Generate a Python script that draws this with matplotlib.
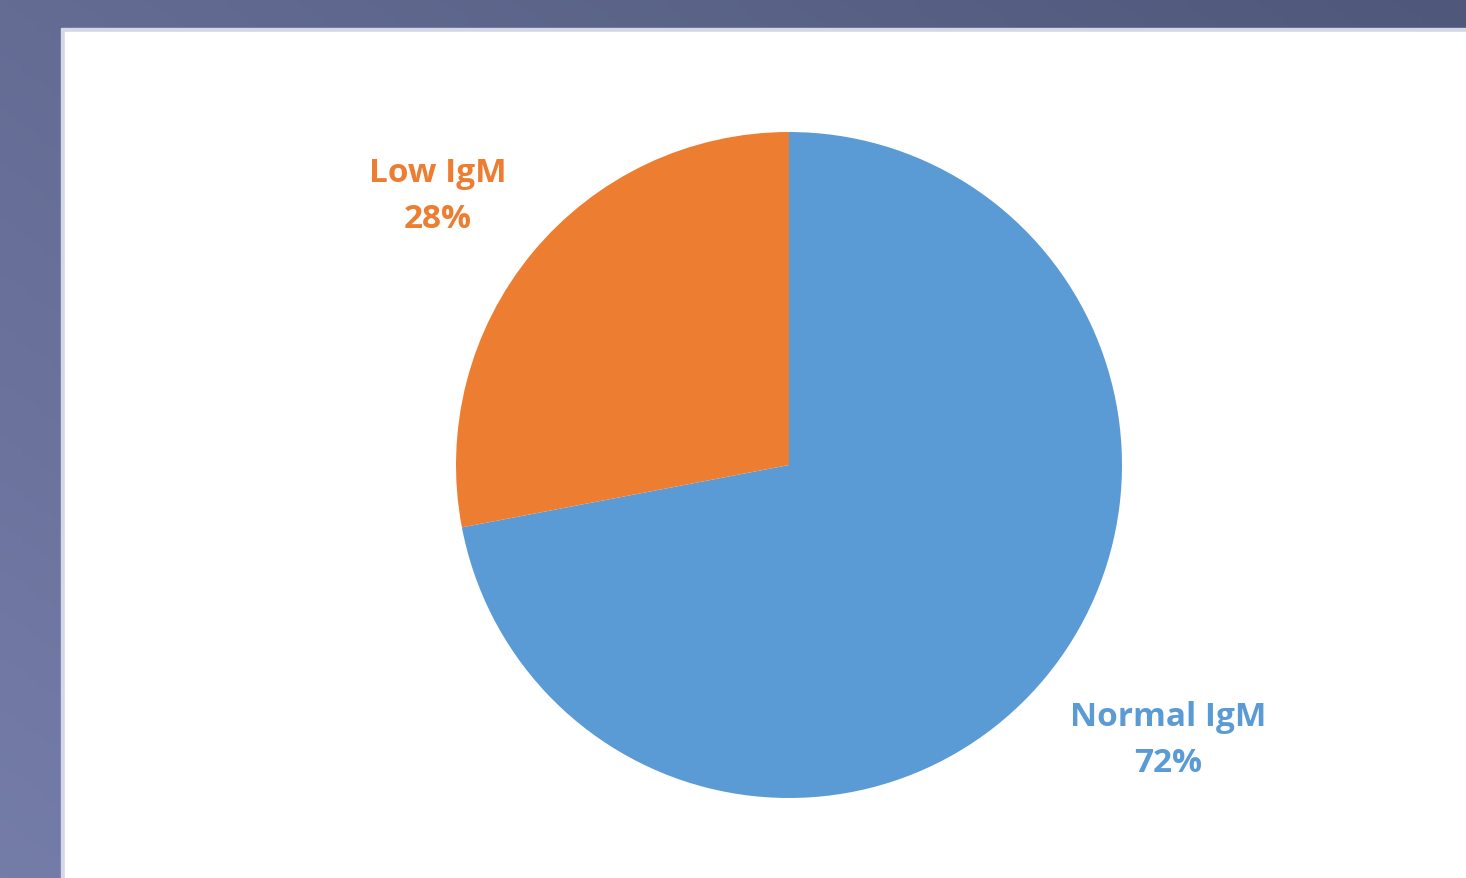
import numpy as np
import matplotlib.pyplot as plt

# IgM status share
labels = ['Normal IgM', 'Low IgM']
shares = [72, 28]
colors = ['#5B9BD5', '#ED7D31']
label_pos = [(1.14, -0.825), (-1.055, 0.81)]

W, H = 1466, 879
fig = plt.figure(figsize=(W / 100, H / 100), dpi=100)

# slide-style gradient backdrop
bg = fig.add_axes([0, 0, 1, 1])
xx, yy = np.meshgrid(np.linspace(0, 1, 200), np.linspace(0, 1, 200))
top_left = np.array([0x64, 0x6C, 0x94]) / 255
top_right = np.array([0x4F, 0x58, 0x7A]) / 255
bot_left = np.array([0x74, 0x7C, 0xA8]) / 255
grad = (top_left[None, None, :] * (1 - xx[..., None]) * (1 - yy[..., None])
        + top_right[None, None, :] * xx[..., None] * (1 - yy[..., None])
        + bot_left[None, None, :] * (1 - xx[..., None]) * yy[..., None]
        + (top_right * 0.5 + bot_left * 0.5)[None, None, :] * xx[..., None] * yy[..., None])
bg.imshow(grad, extent=[0, 1, 0, 1], origin='upper', aspect='auto')
bg.axis('off')

# white content panel
panel_l, panel_t = 65 / W, 33 / H
bg.add_patch(plt.Rectangle((panel_l - 0.003, 0), 1, 1 - panel_t + 0.004,
                           color='#D4D8E6', transform=bg.transAxes, zorder=2))
bg.add_patch(plt.Rectangle((panel_l, 0), 1, 1 - panel_t,
                           color='white', transform=bg.transAxes, zorder=3))
bg.set_xlim(0, 1)
bg.set_ylim(0, 1)

# pie
cx, cy, r = 789, 466, 333
ax = fig.add_axes([(cx - r) / W, (H - cy - r) / H, 2 * r / W, 2 * r / H])
ax.pie(shares, colors=colors, startangle=90, counterclock=False, radius=1,
       wedgeprops=dict(edgecolor='white', linewidth=0))
ax.set_xlim(-1, 1)
ax.set_ylim(-1, 1)
ax.set_aspect('equal')
ax.axis('off')

for lab, val, col, (lx, ly) in zip(labels, shares, colors, label_pos):
    ax.text(lx, ly, f'{lab}\n{val}%', ha='center', va='center', color=col,
            fontsize=24, fontweight='bold', family='Open Sans',
            linespacing=1.5, clip_on=False)

fig.savefig('out.png', dpi=100)
